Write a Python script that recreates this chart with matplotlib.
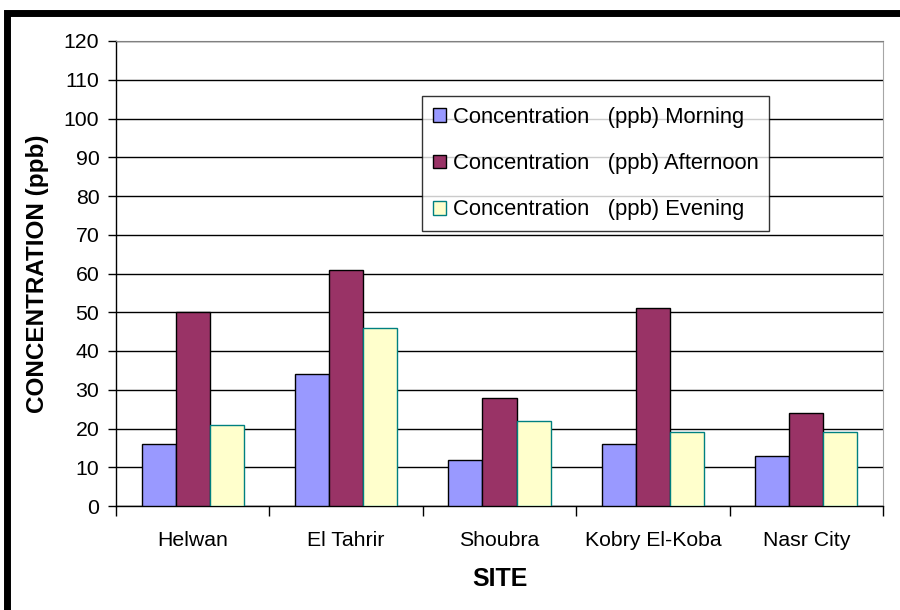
import matplotlib.pyplot as plt
import numpy as np
from matplotlib.patches import Rectangle

# fonts similar to Arial
plt.rcParams['font.family'] = ['Liberation Sans', 'DejaVu Sans']

# data
sites = ['Helwan', 'El Tahrir', 'Shoubra', 'Kobry El-Koba', 'Nasr City']
morning = [16, 34, 12, 16, 13]
afternoon = [50, 61, 28, 51, 24]
evening = [21, 46, 22, 19, 19]
labels = ['Concentration   (ppb) Morning',
          'Concentration   (ppb) Afternoon',
          'Concentration   (ppb) Evening']

fig = plt.figure(figsize=(9, 6.1), dpi=100)
ax = fig.add_axes([116/900, 1-506/610, (883-116)/900, (506-41)/610])

x = np.arange(len(sites))
w = 1/4.5  # gap width 150%

ax.bar(x - w, morning, w, color='#9999FF', edgecolor='black', linewidth=1, label=labels[0], zorder=3)
ax.bar(x, afternoon, w, color='#993366', edgecolor='black', linewidth=1, label=labels[1], zorder=3)
ax.bar(x + w, evening, w, color='#FFFFCC', edgecolor='#008080', linewidth=1, label=labels[2], zorder=3)

ax.set_xlim(-0.5, len(sites) - 0.5)
ax.set_ylim(0, 120)
ax.set_yticks(range(0, 121, 10))
ax.yaxis.grid(True, color='black', linewidth=1)
ax.set_axisbelow(True)

# category labels with boundary ticks
ax.set_xticks(x)
ax.set_xticklabels(sites, fontsize=15.3)
ax.tick_params(axis='x', which='major', length=0, pad=18)
ax.set_xticks(np.arange(-0.5, len(sites)), minor=True)
ax.tick_params(axis='x', which='minor', length=7, width=1, direction='out')
ax.tick_params(axis='y', labelsize=15.3, length=6, width=1, direction='out', pad=6)

ax.spines['top'].set_color('#808080')
ax.spines['right'].set_color('#A6A6A6')
ax.spines['left'].set_linewidth(1)
ax.spines['bottom'].set_linewidth(1)

ax.set_xlabel('SITE', fontsize=18, fontweight='bold', labelpad=12)
ax.set_ylabel('CONCENTRATION (ppb)', fontsize=17.5, fontweight='bold', labelpad=11)

leg = ax.legend(loc='upper left', bbox_to_anchor=(422/900, 1-96/610), bbox_transform=fig.transFigure,
                borderaxespad=0, fontsize=15.8, frameon=True, fancybox=False, shadow=False,
                handlelength=0.6, handleheight=0.6, handletextpad=0.3, labelspacing=1.15,
                borderpad=0.5)
leg.get_frame().set_edgecolor('black')
leg.get_frame().set_linewidth(1)

# thick border round the chart
fig.patches.append(Rectangle((6.5/900, -0.1), 1.2, 1.1 - 13.5/610, transform=fig.transFigure,
                             fill=False, edgecolor='black', linewidth=5, figure=fig))

fig.savefig('out.png', dpi=100)
